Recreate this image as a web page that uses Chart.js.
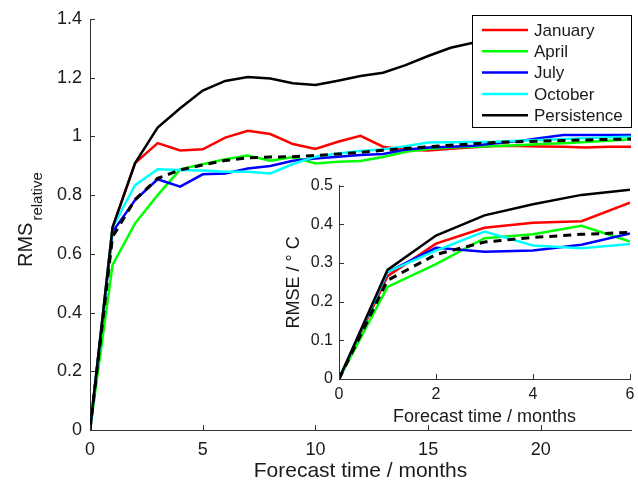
<!DOCTYPE html>
<html>
<head>
<meta charset="utf-8">
<script src="https://cdn.jsdelivr.net/npm/chart.js@4.4.0/dist/chart.umd.min.js"></script>
<style>
  body { margin: 0; background: #fff; }
  #wrap { position: relative; width: 638px; height: 489px; }
  #chart { position: absolute; left: 0; top: 0; }
  #inset { position: absolute; left: 270px; top: 170px; }
</style>
</head>
<body>
<div id="wrap">
  <canvas id="chart" width="638" height="489"></canvas>
  <canvas id="inset" width="366" height="262"></canvas>
</div>
<script>
// main panel: relative RMS vs forecast month
const months = [0, 1, 2, 3, 4, 5, 6, 7, 8, 9, 10, 11, 12, 13, 14, 15, 16, 17, 18, 19, 20, 21, 22, 23, 24];
const january = [0, 0.69, 0.909, 0.977, 0.952, 0.956, 0.996, 1.019, 1.008, 0.974, 0.957, 0.982, 1.002, 0.965, 0.955, 0.952, 0.958, 0.963, 0.967, 0.967, 0.966, 0.965, 0.962, 0.965, 0.965];
const april = [0, 0.562, 0.704, 0.8, 0.888, 0.905, 0.922, 0.935, 0.917, 0.93, 0.908, 0.914, 0.916, 0.93, 0.948, 0.957, 0.962, 0.965, 0.967, 0.97, 0.974, 0.977, 0.981, 0.985, 0.99];
const july = [0, 0.675, 0.783, 0.854, 0.829, 0.871, 0.874, 0.891, 0.899, 0.917, 0.925, 0.931, 0.937, 0.94, 0.955, 0.962, 0.965, 0.968, 0.977, 0.984, 0.995, 1.005, 1.005, 1.005, 1.005];
const october = [0, 0.69, 0.834, 0.888, 0.886, 0.884, 0.88, 0.88, 0.874, 0.906, 0.931, 0.942, 0.95, 0.956, 0.967, 0.979, 0.98, 0.981, 0.982, 0.985, 0.988, 0.991, 0.994, 0.997, 0.999];
const persistence = [0, 0.69, 0.909, 1.03, 1.096, 1.156, 1.189, 1.202, 1.197, 1.181, 1.175, 1.19, 1.206, 1.217, 1.243, 1.274, 1.302, 1.319, 1.335, 1.35, 1.365, 1.375, 1.385, 1.39, 1.395];
const mean = [0, 0.658, 0.785, 0.857, 0.886, 0.903, 0.918, 0.927, 0.93, 0.931, 0.935, 0.94, 0.946, 0.953, 0.959, 0.965, 0.97, 0.975, 0.979, 0.982, 0.984, 0.986, 0.988, 0.99, 0.991];
const mainXTicks = [0, 5, 10, 15, 20];
const mainYTicks = [0, 0.2, 0.4, 0.6, 0.8, 1, 1.2, 1.4];

// inset: RMSE in degrees C, first 6 months
const insetMonths = [0, 1, 2, 3, 4, 5, 6];
const janRmse = [0, 0.266, 0.35, 0.391, 0.404, 0.408, 0.456];
const aprRmse = [0, 0.238, 0.297, 0.364, 0.374, 0.396, 0.355];
const julRmse = [0, 0.276, 0.339, 0.329, 0.332, 0.347, 0.376];
const octRmse = [0, 0.277, 0.332, 0.381, 0.345, 0.338, 0.349];
const persRmse = [0, 0.282, 0.371, 0.423, 0.452, 0.476, 0.489];
const meanRmse = [0, 0.255, 0.322, 0.354, 0.366, 0.374, 0.379];
const insetXTicks = [0, 2, 4, 6];
const insetYTicks = [0, 0.1, 0.2, 0.3, 0.4, 0.5];

const legendNames = ["January", "April", "July", "October", "Persistence"];
const colors = ["#ff0000", "#00ff00", "#0000ff", "#00ffff", "#000000"];

const FONT = "'Liberation Sans', Arial, Helvetica, sans-serif";
const AXIS = "#333";
const TEXT = "#1a1a1a";

function series(xs, ys) {
  return xs.map((x, i) => ({ x: x, y: ys[i] }));
}

function line(label, xs, ys, color, order, dash) {
  return {
    label: label,
    data: series(xs, ys),
    borderColor: color,
    borderWidth: dash ? 3 : 2.5,
    borderDash: dash || [],
    borderCapStyle: "butt",
    pointRadius: 0,
    tension: 0,
    fill: false,
    order: order,
  };
}

// matlab style tick marks pointing into the axes
const inTicks = {
  id: "inTicks",
  afterDraw(chart) {
    const { ctx, chartArea, scales } = chart;
    ctx.save();
    ctx.strokeStyle = AXIS;
    ctx.lineWidth = 1;
    ctx.beginPath();
    scales.x.ticks.forEach((t) => {
      const px = Math.round(scales.x.getPixelForValue(t.value)) + 0.5;
      ctx.moveTo(px, chartArea.bottom);
      ctx.lineTo(px, chartArea.bottom - 5);
    });
    scales.y.ticks.forEach((t) => {
      const py = Math.round(scales.y.getPixelForValue(t.value)) + 0.5;
      ctx.moveTo(chartArea.left, py);
      ctx.lineTo(chartArea.left + 5, py);
    });
    ctx.stroke();
    ctx.restore();
  },
};

// boxed legend in the top right corner
const boxLegend = {
  id: "boxLegend",
  afterDraw(chart) {
    const ctx = chart.ctx;
    const x0 = 472.5, y0 = 15.5, w = 159, h = 112;
    ctx.save();
    ctx.fillStyle = "#fff";
    ctx.fillRect(x0, y0, w, h);
    ctx.strokeStyle = "#000";
    ctx.lineWidth = 1;
    ctx.strokeRect(x0, y0, w, h);
    ctx.font = "17px " + FONT;
    ctx.textBaseline = "middle";
    legendNames.forEach((name, i) => {
      const y = 30 + i * 21.3;
      ctx.strokeStyle = colors[i];
      ctx.lineWidth = 2.5;
      ctx.beginPath();
      ctx.moveTo(482, y);
      ctx.lineTo(528, y);
      ctx.stroke();
      ctx.fillStyle = TEXT;
      ctx.fillText(name, 534, y + 1);
    });
    ctx.restore();
  },
};

// y title with subscript
const yTitle = {
  id: "yTitle",
  afterDraw(chart) {
    const ctx = chart.ctx;
    ctx.save();
    ctx.translate(32, 267);
    ctx.rotate(-Math.PI / 2);
    ctx.fillStyle = TEXT;
    ctx.textBaseline = "alphabetic";
    ctx.font = "20px " + FONT;
    ctx.fillText("RMS", 0, 0);
    const w = ctx.measureText("RMS").width;
    ctx.font = "15px " + FONT;
    ctx.fillText("relative", w + 2, 10);
    ctx.restore();
  },
};

const fmt = (v) => String(+Number(v).toFixed(2));

new Chart(document.getElementById("chart").getContext("2d"), {
  type: "line",
  data: {
    datasets: [
      line("Mean", months, mean, "#000000", 0, [8, 6]),
      line("Persistence", months, persistence, colors[4], 1),
      line("October", months, october, colors[3], 2),
      line("July", months, july, colors[2], 3),
      line("April", months, april, colors[1], 4),
      line("January", months, january, colors[0], 5),
    ],
  },
  options: {
    responsive: false,
    animation: false,
    layout: { padding: { top: 19, right: 7, left: 0, bottom: 0 } },
    plugins: { legend: { display: false }, tooltip: { enabled: false } },
    scales: {
      x: {
        type: "linear",
        min: 0,
        max: 24,
        afterBuildTicks: (s) => { s.ticks = mainXTicks.map((v) => ({ value: v })); },
        afterFit: (s) => { s.height = 59; s.paddingLeft = 0; s.paddingRight = 0; },
        grid: { display: false, drawTicks: false },
        border: { color: AXIS, width: 1 },
        ticks: { color: TEXT, font: { family: FONT, size: 18 }, padding: 9, maxRotation: 0, autoSkip: false, callback: fmt },
        title: { display: true, text: "Forecast time / months", color: TEXT, font: { family: FONT, size: 21 }, padding: { top: 0, bottom: 5 } },
      },
      y: {
        min: 0,
        max: 1.4,
        afterBuildTicks: (s) => { s.ticks = mainYTicks.map((v) => ({ value: v })); },
        afterFit: (s) => { s.width = 90; },
        grid: { display: false, drawTicks: false },
        border: { color: AXIS, width: 1 },
        ticks: { color: TEXT, font: { family: FONT, size: 18 }, padding: 8, autoSkip: false, callback: fmt },
      },
    },
  },
  plugins: [inTicks, yTitle, boxLegend],
});

new Chart(document.getElementById("inset").getContext("2d"), {
  type: "line",
  data: {
    datasets: [
      line("Mean", insetMonths, meanRmse, "#000000", 0, [8, 6]),
      line("Persistence", insetMonths, persRmse, colors[4], 1),
      line("October", insetMonths, octRmse, colors[3], 2),
      line("July", insetMonths, julRmse, colors[2], 3),
      line("April", insetMonths, aprRmse, colors[1], 4),
      line("January", insetMonths, janRmse, colors[0], 5),
    ],
  },
  options: {
    responsive: false,
    animation: false,
    layout: { padding: { top: 11, right: 6, left: 0, bottom: 0 } },
    plugins: { legend: { display: false }, tooltip: { enabled: false } },
    scales: {
      x: {
        type: "linear",
        min: 0,
        max: 6,
        afterBuildTicks: (s) => { s.ticks = insetXTicks.map((v) => ({ value: v })); },
        afterFit: (s) => { s.height = 53; s.paddingLeft = 0; s.paddingRight = 0; },
        grid: { display: false, drawTicks: false },
        border: { color: AXIS, width: 1 },
        ticks: { color: TEXT, font: { family: FONT, size: 16 }, padding: 6, maxRotation: 0, autoSkip: false, callback: fmt },
        title: { display: true, text: "Forecast time / months", color: TEXT, font: { family: FONT, size: 18 }, padding: { top: 0, bottom: 4 } },
      },
      y: {
        min: 0,
        max: 0.5,
        afterBuildTicks: (s) => { s.ticks = insetYTicks.map((v) => ({ value: v })); },
        afterFit: (s) => { s.width = 69; },
        grid: { display: false, drawTicks: false },
        border: { color: AXIS, width: 1 },
        ticks: { color: TEXT, font: { family: FONT, size: 16 }, padding: 6, autoSkip: false, callback: fmt },
        title: { display: true, text: "RMSE / \u00b0 C", color: TEXT, font: { family: FONT, size: 18 }, padding: { top: 13, bottom: 0 } },
      },
    },
  },
  plugins: [inTicks],
});
</script>
</body>
</html>
